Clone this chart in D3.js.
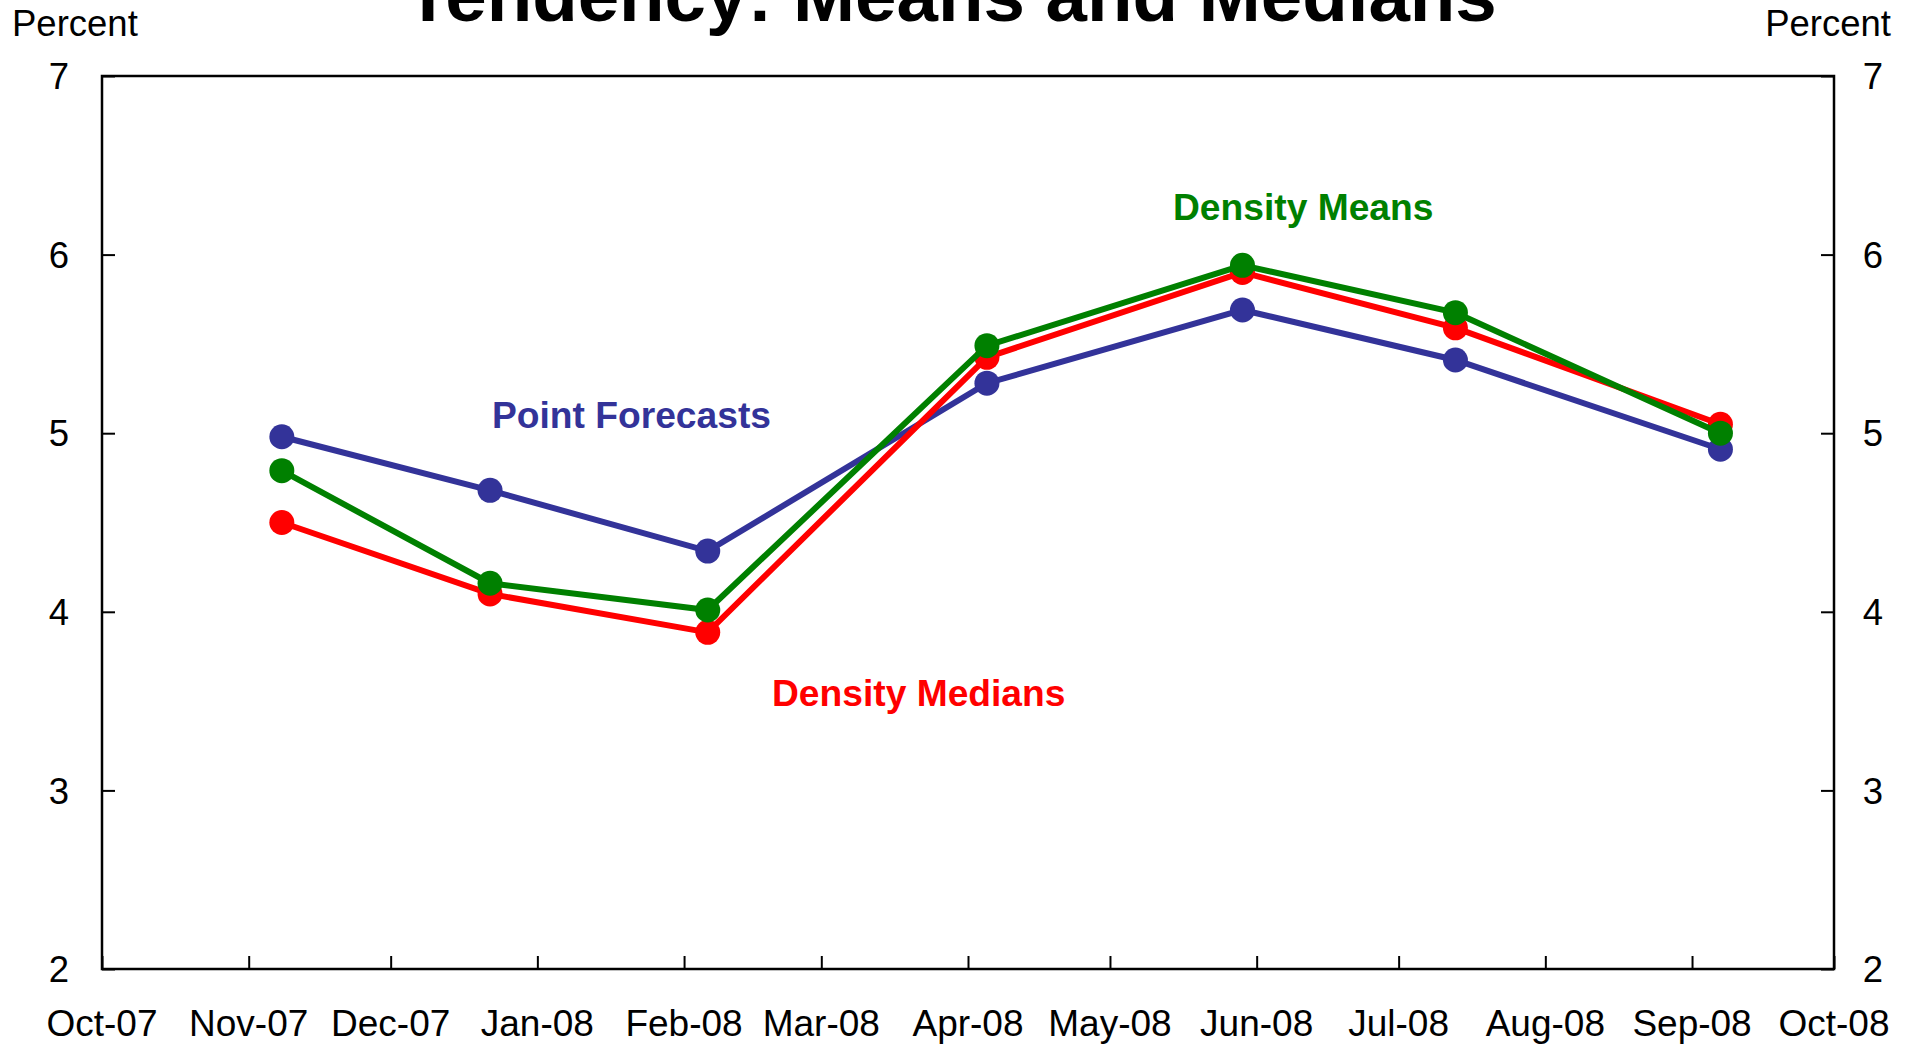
<!DOCTYPE html>
<html>
<head>
<meta charset="utf-8">
<script src="https://cdn.jsdelivr.net/npm/d3@7"></script>
<style>
    body { margin: 0; background: #fff; }
    svg { display: block; font-family: "Liberation Sans", Arial, sans-serif; }
</style>
</head>
<body>
<script>
// ! DATA ! //
const surveyDates = ["2007-11-08", "2007-12-22", "2008-02-06", "2008-04-05", "2008-05-29", "2008-07-13", "2008-09-07"];
const pointForecasts = [4.98, 4.68, 4.34, 5.28, 5.69, 5.41, 4.91];
const densityMeans = [4.79, 4.16, 4.01, 5.49, 5.94, 5.675, 5.0];
const densityMedians = [4.5, 4.1, 3.885, 5.425, 5.9, 5.59, 5.05];
const yTicks = [2, 3, 4, 5, 6, 7];
const xDomain = ["2007-10-01", "2008-10-01"];
const seriesNames = ["Point Forecasts", "Density Medians", "Density Means"];
const seriesColors = ["#333399", "#ff0000", "#008000"];

const parseDate = d3.timeParse("%Y-%m-%d");

// ^ DIMENSIONS ^ //
const width = 1916;
const height = 1046;
const plot = { left: 102, right: 1834, top: 76, bottom: 969 };

const svg = d3.select("body").append("svg").attr("width", width).attr("height", height);

const xScale = d3.scaleTime()
    .domain(xDomain.map(parseDate))
    .range([plot.left, plot.right]);

const yScale = d3.scaleLinear()
    .domain([2, 7])
    .range([plot.bottom, plot.top]);

// ^ TITLE (cut off at top, as in the source) ^ //
svg.append("text")
    .attr("x", 951)
    .attr("y", 21)
    .attr("text-anchor", "middle")
    .attr("font-size", 74.5)
    .attr("font-weight", "bold")
    .text("Tendency: Means and Medians");

svg.append("text").attr("x", 12).attr("y", 36).attr("font-size", 36.5).text("Percent");
svg.append("text").attr("x", 1891).attr("y", 36).attr("text-anchor", "end").attr("font-size", 36.5).text("Percent");

// ^ AXES ^ //
const leftAxis = svg.append("g")
    .attr("transform", `translate(${plot.left},0)`)
    .call(d3.axisRight(yScale).tickValues(yTicks).tickSize(13).tickFormat(""));
const rightAxis = svg.append("g")
    .attr("transform", `translate(${plot.right},0)`)
    .call(d3.axisLeft(yScale).tickValues(yTicks).tickSize(13).tickFormat(""));
const bottomAxis = svg.append("g")
    .attr("transform", `translate(0,${plot.bottom})`)
    .call(d3.axisTop(xScale).ticks(d3.timeMonth.every(1)).tickSize(13).tickFormat(""));

[leftAxis, rightAxis, bottomAxis].forEach((ax) => {
    ax.select(".domain").remove();
    ax.selectAll("line").attr("stroke", "#000").attr("stroke-width", 2);
});

// frame
svg.append("rect")
    .attr("x", plot.left)
    .attr("y", plot.top)
    .attr("width", plot.right - plot.left)
    .attr("height", plot.bottom - plot.top)
    .attr("fill", "none")
    .attr("stroke", "#000")
    .attr("stroke-width", 2.5);

// y labels
yTicks.forEach((t) => {
    svg.append("text").attr("x", 59).attr("y", yScale(t)).attr("dy", "0.36em")
        .attr("text-anchor", "middle").attr("font-size", 36.5).text(t);
    svg.append("text").attr("x", 1873).attr("y", yScale(t)).attr("dy", "0.36em")
        .attr("text-anchor", "middle").attr("font-size", 36.5).text(t);
});

// x labels
const fmt = d3.timeFormat("%b-%y");
svg.append("g")
    .selectAll("text")
    .data(xScale.ticks(d3.timeMonth.every(1)))
    .enter()
    .append("text")
    .attr("x", (d) => xScale(d))
    .attr("y", 1036)
    .attr("text-anchor", "middle")
    .attr("font-size", 37)
    .text((d) => fmt(d));

// ! SERIES ! //
const allSeries = [pointForecasts, densityMedians, densityMeans];
const line = d3.line()
    .x((d) => xScale(d.date))
    .y((d) => yScale(d.value));

allSeries.forEach((values, i) => {
    const pts = values.map((v, j) => ({ date: parseDate(surveyDates[j]), value: v }));
    const g = svg.append("g").attr("class", "series");
    g.append("path")
        .datum(pts)
        .attr("d", line)
        .attr("fill", "none")
        .attr("stroke", seriesColors[i])
        .attr("stroke-width", 6);
    g.selectAll("circle")
        .data(pts)
        .enter()
        .append("circle")
        .attr("cx", (d) => xScale(d.date))
        .attr("cy", (d) => yScale(d.value))
        .attr("r", 12.5)
        .attr("fill", seriesColors[i]);
});

// ^ SERIES LABELS ^ //
const labelPos = [[492, 428], [772, 706], [1173, 220]];
seriesNames.forEach((name, i) => {
    svg.append("text")
        .attr("x", labelPos[i][0])
        .attr("y", labelPos[i][1])
        .attr("font-size", 37.2)
        .attr("font-weight", "bold")
        .attr("fill", seriesColors[i])
        .text(name);
});
</script>
</body>
</html>
